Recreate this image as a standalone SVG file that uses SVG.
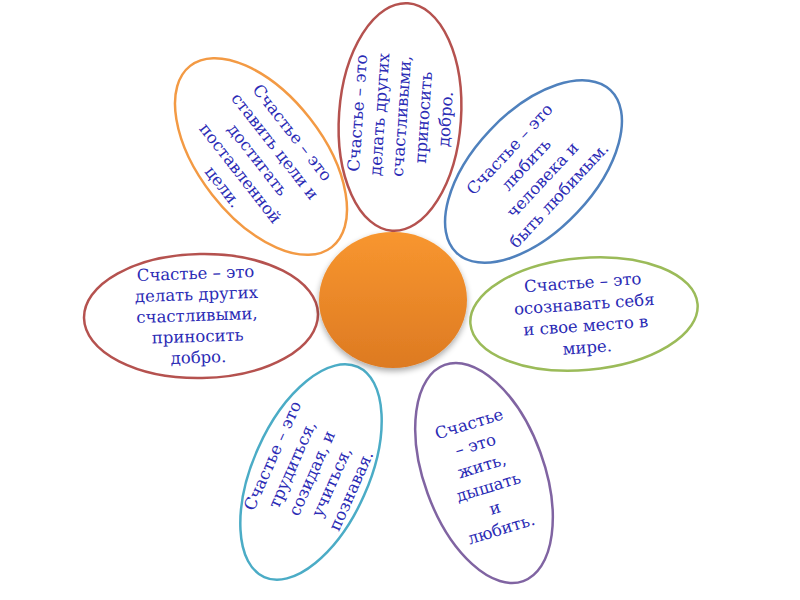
<svg xmlns="http://www.w3.org/2000/svg" width="800" height="600" viewBox="0 0 800 600">
<defs>
<linearGradient id="og" x1="0" y1="0" x2="0" y2="1">
<stop offset="0" stop-color="#F8962F"/>
<stop offset="1" stop-color="#DD7A22"/>
</linearGradient>
<filter id="sh" x="-20%" y="-20%" width="140%" height="150%">
<feGaussianBlur in="SourceAlpha" stdDeviation="3"/>
<feOffset dy="3" result="b"/>
<feComponentTransfer><feFuncA type="linear" slope="0.35"/></feComponentTransfer>
<feMerge><feMergeNode/><feMergeNode in="SourceGraphic"/></feMerge>
</filter>
</defs>
<style>
.p{fill:#fff;stroke-width:2.5}
.t{font-family:"DejaVu Serif","Liberation Serif",serif;font-size:16.5px;fill:#2B2BB5;text-anchor:middle}
</style>
<rect width="800" height="600" fill="#fff"/>
<g id="petal-top" transform="translate(400,117)">
<ellipse class="p" rx="61" ry="114" transform="rotate(4)" stroke="#B5524F"/>
<text class="t" transform="translate(1,-1) rotate(-86)"><tspan x="0" y="-38">Счастье – это</tspan><tspan x="0" y="-16">делать других</tspan><tspan x="0" y="6">счастливыми,</tspan><tspan x="0" y="28">приносить</tspan><tspan x="0" y="50">добро.</tspan></text>
</g>
<g id="petal-upper-left" transform="translate(261,156.5)">
<ellipse class="p" rx="115" ry="62" transform="rotate(52)" stroke="#F39A44"/>
<text class="t" transform="translate(-3,3) rotate(52)"><tspan x="0" y="-38">Счастье – это</tspan><tspan x="0" y="-16">ставить цели и</tspan><tspan x="0" y="6">достигать</tspan><tspan x="0" y="28">поставленной</tspan><tspan x="0" y="50">цели.</tspan></text>
</g>
<g id="petal-upper-right" transform="translate(533.5,171.5)">
<ellipse class="p" rx="112" ry="60" transform="rotate(-46.6)" stroke="#4F81BD"/>
<text class="t" transform="translate(0.5,0.5) rotate(-47)"><tspan x="0" y="-27.75">Счастье – это</tspan><tspan x="0" y="-5.25">любить</tspan><tspan x="0" y="17.25">человека и</tspan><tspan x="0" y="39.75">быть любимым.</tspan></text>
</g>
<g id="petal-left" transform="translate(201,316)">
<ellipse class="p" rx="117" ry="62" transform="rotate(-1)" stroke="#B5524F"/>
<text class="t" transform="translate(-4,-1) rotate(-2)"><tspan x="0" y="-36">Счастье – это</tspan><tspan x="0" y="-15">делать других</tspan><tspan x="0" y="6">счастливыми,</tspan><tspan x="0" y="27">приносить</tspan><tspan x="0" y="48">добро.</tspan></text>
</g>
<g id="petal-right" transform="translate(584,314)">
<ellipse class="p" rx="114" ry="56" transform="rotate(-5)" stroke="#9BBB59"/>
<text class="t" transform="translate(1,0.5) rotate(-4)"><tspan x="0" y="-26.5">Счастье – это</tspan><tspan x="0" y="-4.8">осознавать себя</tspan><tspan x="0" y="16.8">и свое место в</tspan><tspan x="0" y="38.5">мире.</tspan></text>
</g>
<g id="petal-lower-left" transform="translate(311,472)">
<ellipse class="p" rx="58" ry="115" transform="rotate(24)" stroke="#4BACC6"/>
<text class="t" transform="translate(0.5,1) rotate(-66)"><tspan x="0" y="-37">Счастье – это</tspan><tspan x="0" y="-15.5">трудиться,</tspan><tspan x="0" y="6">созидая, и</tspan><tspan x="0" y="27.5">учиться,</tspan><tspan x="0" y="49">познавая.</tspan></text>
</g>
<g id="petal-lower-right" transform="translate(484,473)">
<ellipse class="p" rx="60" ry="115" transform="rotate(-20)" stroke="#8064A2"/>
<text class="t" transform="translate(1,3) rotate(-17)"><tspan x="0" y="-49">Счастье</tspan><tspan x="0" y="-27">– это</tspan><tspan x="0" y="-5">жить,</tspan><tspan x="0" y="17">дышать</tspan><tspan x="0" y="39">и</tspan><tspan x="0" y="61">любить.</tspan></text>
</g>
<g id="center">
<ellipse cx="393" cy="300" rx="74" ry="68" fill="url(#og)" filter="url(#sh)"/>
</g>
</svg>
